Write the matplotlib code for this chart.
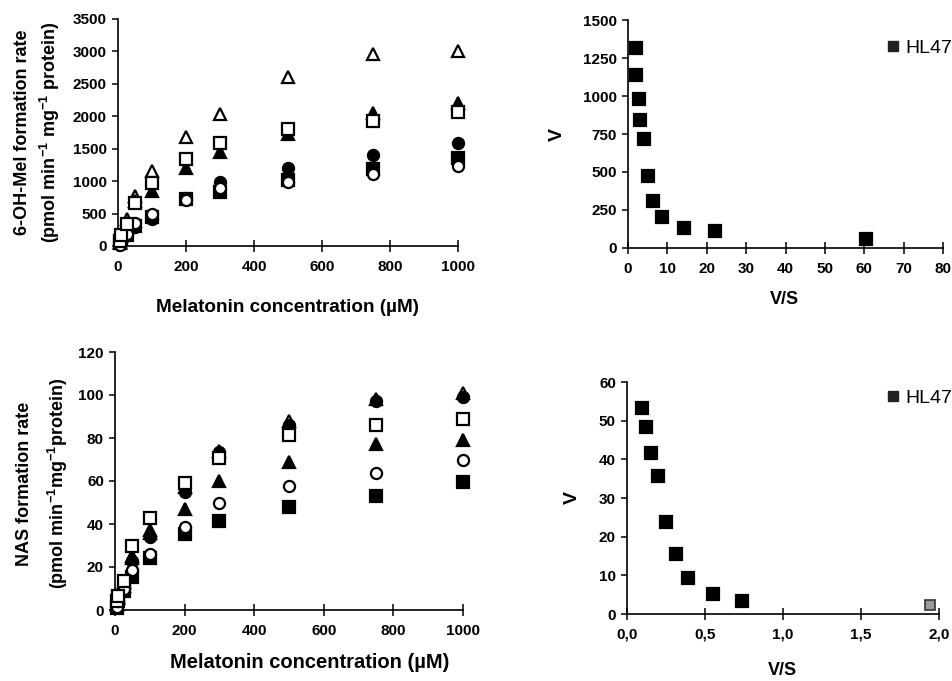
import matplotlib
matplotlib.use("Agg")
import matplotlib.pyplot as plt
from matplotlib.lines import Line2D

plt.rcParams['font.family'] = ['Liberation Sans', 'DejaVu Sans']
plt.rcParams['font.weight'] = 'bold'
plt.rcParams['mathtext.fontset'] = 'custom'
plt.rcParams['mathtext.rm'] = 'Liberation Sans:bold'
plt.rcParams['mathtext.bf'] = 'Liberation Sans:bold'
plt.rcParams['mathtext.it'] = 'Liberation Sans:bold'

# ---------------- data ----------------
conc = [5, 10, 25, 50, 100, 200, 300, 500, 750, 1000]

# 6-OH-Mel formation (pmol/min/mg protein)
oh_open_tri = [60, 180, 410, 770, 1150, 1680, 2040, 2600, 2960, 3010]
oh_filled_tri = [50, 150, 360, 700, 850, 1200, 1450, 1730, 2050, 2200]
oh_filled_sq = [50, 90, 170, 310, 450, 720, 830, 1020, 1190, 1350]
oh_filled_circ = [30, 100, 200, 290, 410, 740, 980, 1200, 1400, 1590]
oh_open_circ = [20, 120, 190, 350, 500, 710, 890, 980, 1110, 1230]
oh_open_sq = [80, 170, 340, 670, 970, 1340, 1590, 1810, 1920, 2060]

# NAS formation (pmol/min/mg protein)
nas_open_tri = [3, 6, 13, 25, 37, 57, 74, 88, 98, 101]
nas_filled_tri = [3, 5.5, 11, 24, 36, 47, 60, 69, 77, 79]
nas_filled_sq = [1, 4, 9, 15.5, 24, 35.3, 41.5, 48, 53, 59.5]
nas_filled_circ = [2, 6, 11, 23, 34, 55, 73.5, 86, 97, 99]
nas_open_circ = [1.5, 4, 10, 18.6, 26, 38.7, 50, 57.6, 63.5, 70]
nas_open_sq = [4, 6.5, 13.6, 29.7, 42.6, 59, 70.5, 81.5, 86, 89]

# Eadie-Hofstee HL47, 6-OH-Mel
eh1_vs = [2.0, 2.1, 2.8, 3.1, 4.1, 5.0, 6.4, 8.7, 14.1, 22.0, 60.5]
eh1_v = [1315, 1139, 983, 841, 714, 471, 311, 207, 132, 110, 59]

# Eadie-Hofstee HL47, NAS
eh2_vs = [0.096, 0.119, 0.154, 0.198, 0.25, 0.311, 0.388, 0.554, 0.74]
eh2_v = [53.4, 48.4, 41.7, 35.8, 23.9, 15.4, 9.2, 5.3, 3.4]
eh2_out_vs = [1.945]
eh2_out_v = [2.3]

tl_xticks = [0, 200, 400, 600, 800, 1000]
tl_yticks = [0, 500, 1000, 1500, 2000, 2500, 3000, 3500]
bl_yticks = [0, 20, 40, 60, 80, 100, 120]
tr_xticks = [0, 10, 20, 30, 40, 50, 60, 70, 80]
tr_yticks = [0, 250, 500, 750, 1000, 1250, 1500]
br_xticks = [0.0, 0.5, 1.0, 1.5, 2.0]
br_xlabels = ['0,0', '0,5', '1,0', '1,5', '2,0']
br_yticks = [0, 10, 20, 30, 40, 50, 60]

W, H = 952, 681
fig = plt.figure(figsize=(W / 100, H / 100), dpi=100)


def ax_px(x0, x1, ytop, ybot):
    return fig.add_axes([x0 / W, 1 - ybot / H, (x1 - x0) / W, (ybot - ytop) / H])


def style(ax):
    for s in ['top', 'right']:
        ax.spines[s].set_visible(False)
    for s in ['left', 'bottom']:
        ax.spines[s].set_linewidth(1.2)
    ax.tick_params(axis='x', direction='inout', length=8, width=1.1, pad=6, labelsize=11)
    ax.tick_params(axis='y', direction='out', length=4, width=1.1, pad=4, labelsize=11)
    for lab in ax.get_xticklabels() + ax.get_yticklabels():
        lab.set_fontweight('bold')


MS = 8
MEW = 1.6


def series(ax, x, y, marker, filled, ms=MS):
    ax.plot(x, y, linestyle='none', marker=marker, ms=ms, mew=MEW,
            mec='black', mfc='black' if filled else 'white', clip_on=False, zorder=3)


LABFS = 13


def dose_panel(ax, data, fs):
    for y, m, f in data:
        series(ax, conc, y, m, f)
    ax.set_xlim(0, 1000)
    ax.set_xticks(tl_xticks)
    ax.set_xlabel('Melatonin concentration (µM)', fontsize=fs, fontweight='bold', va='center')


# ---- top-left ----
ax1 = ax_px(118, 458, 19, 246)
dose_panel(ax1, [(oh_open_tri, '^', False), (oh_filled_tri, '^', True),
                 (oh_filled_sq, 's', True), (oh_filled_circ, 'o', True),
                 (oh_open_circ, 'o', False), (oh_open_sq, 's', False)], 13.6)
ax1.set_ylim(0, 3500)
ax1.set_yticks(tl_yticks)
ax1.set_ylabel('6-OH-Mel formation rate\n(pmol min$^{-1}$ mg$^{-1}$ protein)',
               fontsize=LABFS, fontweight='bold', linespacing=1.35, va='center')
ax1.yaxis.set_label_coords(-0.235, 0.5)
ax1.xaxis.set_label_coords(0.5, -0.273)
style(ax1)

# ---- bottom-left ----
ax3 = ax_px(115, 463, 352, 610)
dose_panel(ax3, [(nas_open_tri, '^', False), (nas_filled_tri, '^', True),
                 (nas_filled_sq, 's', True), (nas_filled_circ, 'o', True),
                 (nas_open_circ, 'o', False), (nas_open_sq, 's', False)], 14.5)
ax3.set_ylim(0, 120)
ax3.set_yticks(bl_yticks)
ax3.set_ylabel('NAS formation rate\n(pmol min$^{-1}$mg$^{-1}$protein)',
               fontsize=LABFS, fontweight='bold', linespacing=1.75, va='center')
ax3.yaxis.set_label_coords(-0.207, 0.49)
ax3.xaxis.set_label_coords(0.56, -0.205)
style(ax3)

# ---- top-right ----
ax2 = ax_px(628, 943, 20, 248)
series(ax2, eh1_vs, eh1_v, 's', True, ms=8)
ax2.set_xlim(0, 80)
ax2.set_ylim(0, 1500)
ax2.set_xticks(tr_xticks)
ax2.set_yticks(tr_yticks)
ax2.set_xlabel('V/S', fontsize=LABFS, fontweight='bold', va='center')
ax2.xaxis.set_label_coords(0.498, -0.228)
ax2.set_ylabel('V', fontsize=14, fontweight='bold', va='center')
ax2.yaxis.set_label_coords(-0.225, 0.496)
style(ax2)
h = Line2D([], [], linestyle='none', marker='s', ms=6.5, mfc='#222222', mec='#222222')
ax2.legend([h], ['HL47'], loc='center left', bbox_to_anchor=(887 / W, 1 - 48 / H),
           bbox_transform=fig.transFigure, frameon=False, borderpad=0, borderaxespad=0,
           handlelength=0.6, handletextpad=0.35, prop={'size': 14, 'weight': 'normal'})

# ---- bottom-right ----
ax4 = ax_px(627, 939, 382, 614)
series(ax4, eh2_vs, eh2_v, 's', True, ms=8)
ax4.plot(eh2_out_vs, eh2_out_v, linestyle='none', marker='s', ms=7, mew=1.2,
         mec='#333333', mfc='#9a9a9a', clip_on=False, zorder=3)
ax4.set_xlim(0, 2.0)
ax4.set_ylim(0, 60)
ax4.set_xticks(br_xticks)
ax4.set_xticklabels(br_xlabels)
ax4.set_yticks(br_yticks)
ax4.set_xlabel('V/S', fontsize=LABFS, fontweight='bold', va='center')
ax4.xaxis.set_label_coords(0.497, -0.245)
ax4.set_ylabel('V', fontsize=14, fontweight='bold', va='center')
ax4.yaxis.set_label_coords(-0.175, 0.5)
style(ax4)
h2 = Line2D([], [], linestyle='none', marker='s', ms=6.5, mfc='#222222', mec='#222222')
ax4.legend([h2], ['HL47'], loc='center left', bbox_to_anchor=(887 / W, 1 - 398 / H),
           bbox_transform=fig.transFigure, frameon=False, borderpad=0, borderaxespad=0,
           handlelength=0.6, handletextpad=0.35, prop={'size': 14, 'weight': 'normal'})

fig.savefig('out.png', dpi=100)
